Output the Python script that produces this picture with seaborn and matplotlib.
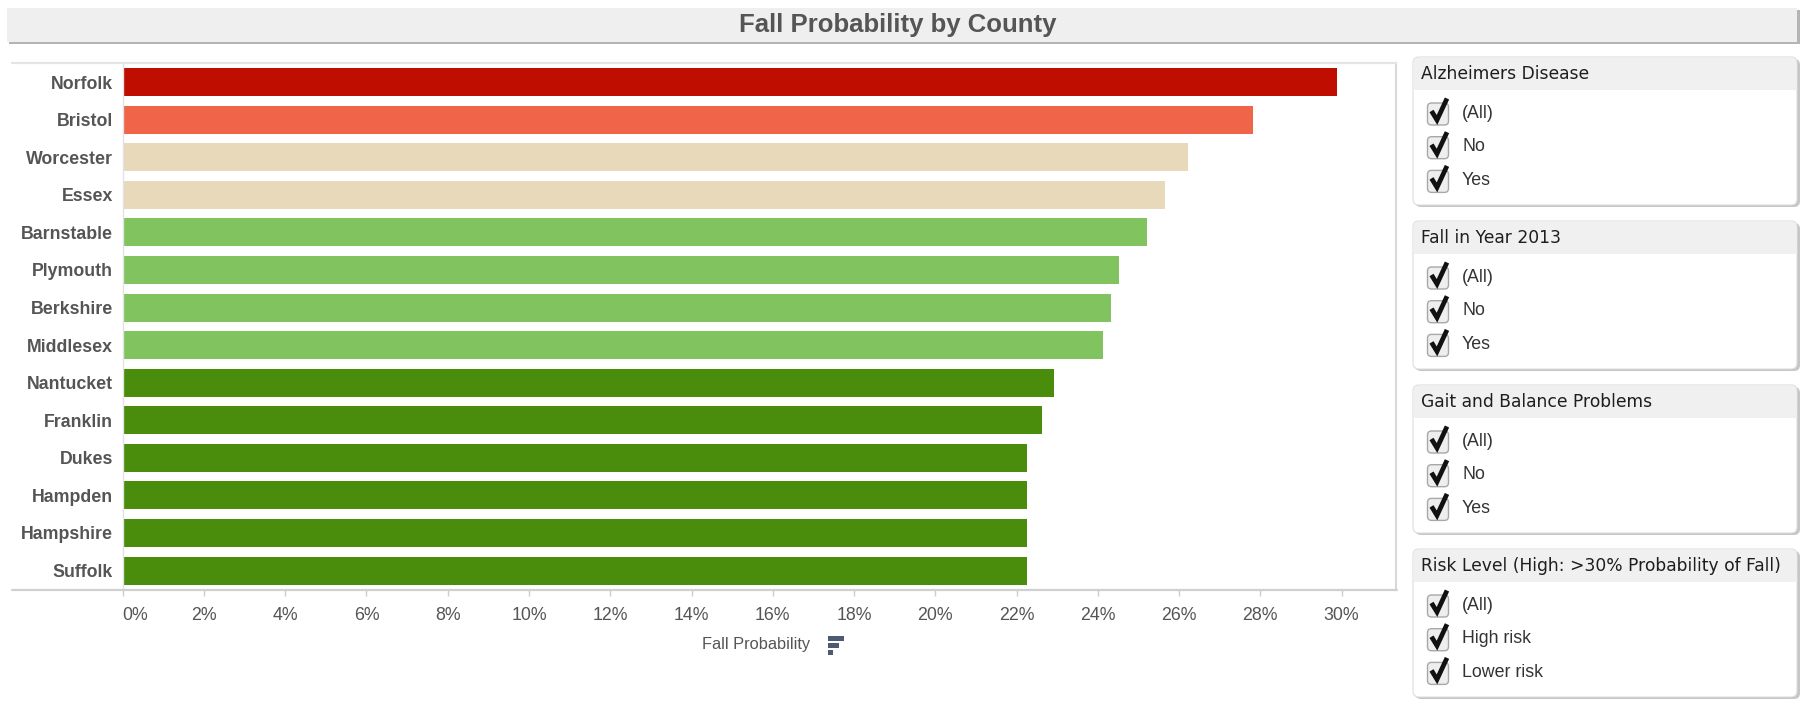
import matplotlib
matplotlib.use('Agg')
import pandas as pd
import matplotlib.pyplot as plt
import seaborn as sns
from matplotlib.patches import FancyBboxPatch, Rectangle
from matplotlib.lines import Line2D
from matplotlib.ticker import PercentFormatter

# data
counties = ['Norfolk', 'Bristol', 'Worcester', 'Essex', 'Barnstable', 'Plymouth',
            'Berkshire', 'Middlesex', 'Nantucket', 'Franklin', 'Dukes', 'Hampden',
            'Hampshire', 'Suffolk']
fall_prob = [0.2988, 0.2781, 0.2621, 0.2566, 0.2521, 0.2453, 0.2433, 0.2414,
             0.2291, 0.2263, 0.2227, 0.2227, 0.2227, 0.2227]
bar_colors = ['#bf0d00', '#f0654a', '#e8d9bb', '#e8d9bb', '#80c35f', '#80c35f',
              '#80c35f', '#80c35f', '#4a8c0c', '#4a8c0c', '#4a8c0c', '#4a8c0c',
              '#4a8c0c', '#4a8c0c']
x_ticks = [0.00, 0.02, 0.04, 0.06, 0.08, 0.10, 0.12, 0.14, 0.16, 0.18,
           0.20, 0.22, 0.24, 0.26, 0.28, 0.30]

filter_titles = ['Alzheimers Disease', 'Fall in Year 2013',
                 'Gait and Balance Problems',
                 'Risk Level (High: >30% Probability of Fall)']
filter_options = [['(All)', 'No', 'Yes'],
                  ['(All)', 'No', 'Yes'],
                  ['(All)', 'No', 'Yes'],
                  ['(All)', 'High risk', 'Lower risk']]

W, H, DPI = 1806, 707, 100


def ix(px):
    return px / DPI


def iy(py):
    # pixel measured from the top -> inches from the bottom
    return (H - py) / DPI


sns.set_theme(style='white')
plt.rcParams['font.family'] = ['Liberation Sans', 'DejaVu Sans']

fig = plt.figure(figsize=(W / DPI, H / DPI), dpi=DPI)
fig.patch.set_facecolor('white')
tr = fig.dpi_scale_trans

# title band
fig.patches.append(Rectangle((ix(9), iy(44)), ix(1791), ix(34), transform=tr,
                             facecolor='#b4b4b4', edgecolor='none'))
fig.patches.append(Rectangle((ix(7), iy(42)), ix(1790), ix(34), transform=tr,
                             facecolor='#efefef', edgecolor='none'))
fig.text(ix(898), iy(25), 'Fall Probability by County', transform=tr,
         ha='center', va='center', fontsize=18.5, fontweight='bold', color='#555555')

# bar chart
ax = fig.add_axes([122.7 / W, 1 - 589.3 / H, (1396 - 122.7) / W, (589.3 - 63.3) / H])
df = pd.DataFrame({'County': counties, 'Fall Probability': fall_prob})
sns.barplot(data=df, x='Fall Probability', y='County', hue='County',
            palette=bar_colors, legend=False, width=0.745, saturation=1,
            linewidth=0, ax=ax)
ax.set_xlim(0, 0.3134)
ax.set_ylim(13.5, -0.5)
ax.set_xticks(x_ticks)
ax.xaxis.set_major_formatter(PercentFormatter(xmax=1, decimals=0))
ax.set_xlabel('')
ax.set_ylabel('')
ax.set_facecolor('white')

for side in ['top', 'bottom']:
    ax.spines[side].set_visible(False)
ax.spines['left'].set_color('#e2e2e2')
ax.spines['left'].set_linewidth(1)
ax.spines['right'].set_color('#d8d8d8')
ax.spines['right'].set_linewidth(1.5)

ax.tick_params(axis='x', bottom=True, length=5, width=1, color='#cccccc',
               labelsize=12.8, labelcolor='#555555', pad=8)
ax.tick_params(axis='y', left=False, length=0, labelsize=12.8,
               labelcolor='#555555', pad=7)
for lbl in ax.get_yticklabels():
    lbl.set_fontweight('bold')
ax.get_xticklabels()[0].set_horizontalalignment('left')

# frame lines that run across the label column too
fig.lines.append(Line2D([ix(12), ix(1396)], [iy(63.3), iy(63.3)], transform=tr,
                        color='#e4e4e4', linewidth=1.6))
fig.lines.append(Line2D([ix(12), ix(1397)], [iy(589.5), iy(589.5)], transform=tr,
                        color='#d0d0d0', linewidth=1.6))

# axis title with sort icon
fig.text(ix(756), iy(645), 'Fall Probability', transform=tr, ha='center',
         va='center', fontsize=11.8, color='#555555')
icon_color = '#4d5b70'
fig.patches.append(Rectangle((ix(828), iy(641)), ix(16), ix(5), transform=tr,
                             facecolor=icon_color, edgecolor='none'))
fig.patches.append(Rectangle((ix(828), iy(648)), ix(11), ix(5), transform=tr,
                             facecolor=icon_color, edgecolor='none'))
fig.patches.append(Rectangle((ix(828), iy(655)), ix(5), ix(5), transform=tr,
                             facecolor=icon_color, edgecolor='none'))

# filter cards on the right
for i, (title, opts) in enumerate(zip(filter_titles, filter_options)):
    top = 57 + 164 * i
    # shadow
    fig.patches.append(FancyBboxPatch((ix(1415), iy(top + 150)), ix(385), ix(148),
                                      boxstyle='round,pad=0,rounding_size=0.06',
                                      transform=tr, facecolor='#c6c6c6',
                                      edgecolor='none'))
    # card body
    fig.patches.append(FancyBboxPatch((ix(1413), iy(top + 148)), ix(384), ix(148),
                                      boxstyle='round,pad=0,rounding_size=0.06',
                                      transform=tr, facecolor='white',
                                      edgecolor='#dddddd', linewidth=0.8))
    # header band
    fig.patches.append(FancyBboxPatch((ix(1413.5), iy(top + 33)), ix(383), ix(32.5),
                                      boxstyle='round,pad=0,rounding_size=0.06',
                                      transform=tr, facecolor='#f0f0f0',
                                      edgecolor='none'))
    fig.patches.append(Rectangle((ix(1413.5), iy(top + 33)), ix(383), ix(12),
                                 transform=tr, facecolor='#f0f0f0', edgecolor='none'))
    fig.text(ix(1421), iy(top + 17), title, transform=tr, ha='left', va='center',
             fontsize=12.3, color='#1e1e1e', family='DejaVu Sans')
    for j, opt in enumerate(opts):
        cy = top + 56 + 33.7 * j
        fig.patches.append(FancyBboxPatch((ix(1427.5), iy(cy + 12)), ix(21), ix(22),
                                          boxstyle='round,pad=0,rounding_size=0.04',
                                          transform=tr, facecolor='#eeeeee',
                                          edgecolor='#a8a8a8', linewidth=1))
        # check mark
        fig.lines.append(Line2D([ix(1431.5), ix(1437), ix(1447)],
                                [iy(cy - 2), iy(cy + 7), iy(cy - 14.5)],
                                transform=tr, color='#111111', linewidth=3.4,
                                solid_joinstyle='miter', solid_capstyle='butt'))
        fig.text(ix(1462), iy(cy), opt, transform=tr, ha='left', va='center',
                 fontsize=12.8, color='#333333')

fig.savefig('out.png', dpi=DPI, facecolor='white')
